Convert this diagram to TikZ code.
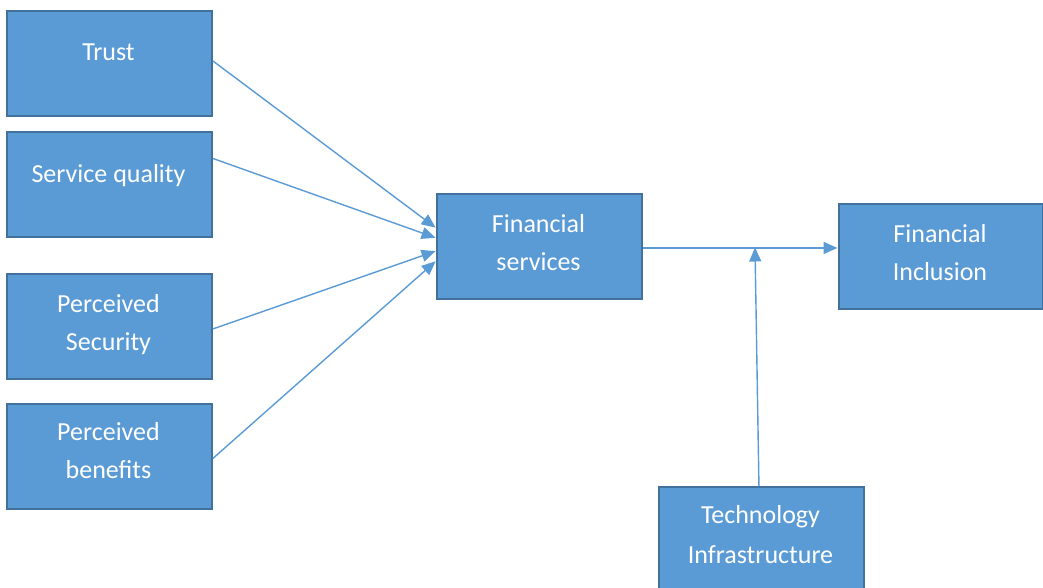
\documentclass[tikz,border=0pt]{standalone}
\usepackage{fontspec}
\setmainfont{Carlito}
\usetikzlibrary{arrows.meta}
\definecolor{boxfill}{HTML}{5B9BD5}
\definecolor{boxline}{HTML}{41719C}
\begin{document}
\begin{tikzpicture}[x=1pt,y=-1pt,
  factor/.style={draw=boxline, line width=1.9pt, fill=boxfill, rectangle,
    minimum width=205pt, minimum height=105pt, inner sep=0pt, anchor=north west},
  caption/.style={text=white, font=\fontsize{26}{37}\selectfont, inner sep=0pt, anchor=base},
  link/.style={draw=boxfill, line width=1.4pt,
    -{Triangle[length=14pt,width=12pt]}, shorten >=0.5pt}]
\useasboundingbox (0,0) rectangle (1043,587);
\clip (0,0) rectangle (1043,587);

% influencing factors
\node[factor] (trust) at (6,10) {};
\node[factor] (quality) at (6,131) {};
\node[factor] (security) at (6,273) {};
\node[factor] (benefits) at (6,403) {};
% central and outcome boxes
\node[factor] (services) at (436,193) {};
\node[factor, minimum width=204pt] (inclusion) at (838,203) {};
\node[factor, minimum height=115pt] (tech) at (658,486) {};

% labels
\node[caption] (t1) at (108.5,60) {Trust};
\node[caption] (q1) at (108.5,182) {Service quality};
\node[caption] (s1) at (108.5,312) {Perceived};
\node[caption] (s2) at (108.5,350) {Security};
\node[caption] (b1) at (108.5,440) {Perceived};
\node[caption] (b2) at (108.5,478) {benefits};
\node[caption] (f1) at (538.5,232) {Financial};
\node[caption] (f2) at (538.5,270) {services};
\node[caption] (i1) at (940,242) {Financial};
\node[caption] (i2) at (940,280) {Inclusion};
\node[caption] (h1) at (760.5,523) {Technology};
\node[caption] (h2) at (760.5,563) {Infrastructure};

% connectors
\draw[link] ([yshift=2.5pt]trust.east) -- ([yshift=18.5pt]services.west);
\draw[link] ([yshift=26pt]quality.east) -- ([yshift=8.5pt]services.west);
\draw[link] ([yshift=-2.5pt]security.east) -- ([yshift=-4.5pt]services.west);
\draw[link] ([yshift=-2pt]benefits.east) -- ([yshift=-14.5pt]services.west);
\coordinate (mid) at ([yshift=-1.5pt]services.east);
\draw[link] (mid) -- (mid -| inclusion.west);
\coordinate (join) at (755,247);
\draw[link] ([xshift=-2.5pt]tech.north) -- (join);
\end{tikzpicture}
\end{document}
